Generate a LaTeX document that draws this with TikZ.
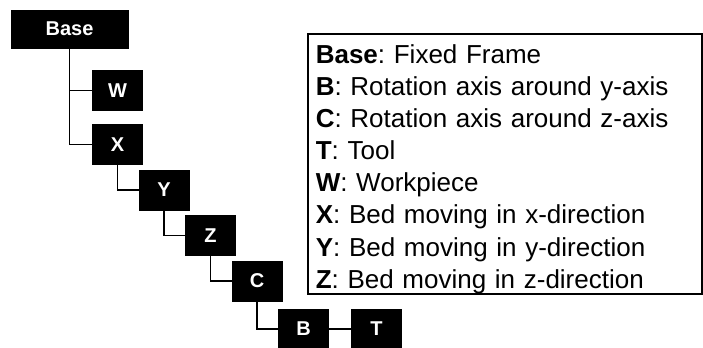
\documentclass[tikz,border=0pt]{standalone}
\usepackage{fontspec}
\setmainfont{Liberation Sans}
\usetikzlibrary{positioning}

\begin{document}
\frenchspacing
\begin{tikzpicture}[
  node distance=22.75pt and 23.25pt, on grid,
  frame/.style={fill=black,draw=black,text=white,font=\fontsize{10}{12}\selectfont\bfseries,minimum width=25pt,minimum height=20pt,inner sep=0pt},
  link/.style={draw=black,line width=0.9pt},
  legend/.style={draw=black,line width=0.8pt,anchor=north west,minimum width=197pt,minimum height=130pt,text width=189pt,inner xsep=4pt,inner ysep=0pt,align=left,font=\fontsize{13}{16.1}\selectfont}
]
\useasboundingbox (0,0) rectangle (351.5pt,-174pt);
\node[frame,minimum width=58.5pt,minimum height=19pt] (base) at (34.75pt,-14.5pt) {Base};
\node[frame,below right=30.75pt and 24pt of base] (w) {W};
\node[frame,below=27pt of w] (x) {X};
\node[frame,below right=of x] (y) {Y};
\node[frame,below right=of y] (z) {Z};
\node[frame,below right=of z] (c) {C};
\node[frame,below right=24pt and 23.25pt of c] (b) {B};
\node[frame,right=36.5pt of b] (t) {T};

\draw[link] (base.south) |- (w.west);
\draw[link] (base.south) |- (x.west);
\draw[link] (x.south) |- (y.west);
\draw[link] (y.south) |- (z.west);
\draw[link] (z.south) |- (c.west);
\draw[link] (c.south) |- (b.west);
\draw[link] (b) -- (t);

\node[legend] (key) at (153.5pt,-16.5pt) {\rule{0pt}{14.6pt}\textbf{Base}: Fixed Frame\\
\textbf{B}: Rotation axis around y-axis\\
\textbf{C}: Rotation axis around z-axis\\
\textbf{T}: Tool\\
\textbf{W}: Workpiece\\
\textbf{X}: Bed moving in x-direction\\
\textbf{Y}: Bed moving in y-direction\\
\textbf{Z}: Bed moving in z-direction\rule[-2.7pt]{0pt}{0pt}};
\end{tikzpicture}
\end{document}
